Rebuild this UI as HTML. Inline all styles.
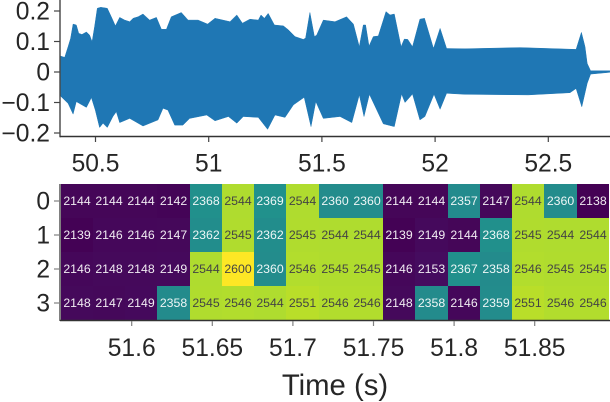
<!DOCTYPE html>
<html>
<head>
<meta charset="utf-8">
<style>
html,body{margin:0;padding:0;background:#fff;}
svg{display:block;}
text{font-family:"Liberation Sans",sans-serif;}
</style>
</head>
<body>
<svg id="chart" xmlns="http://www.w3.org/2000/svg" width="610" height="402" viewBox="0 0 610 402"></svg>
<script>
const upperTimes = [50.346,50.364,50.379,50.390,50.401,50.415,50.426,50.440,50.460,50.474,50.485,50.496,50.508,50.523,50.552,50.570,50.588,50.607,50.629,50.651,50.666,50.688,50.710,50.739,50.769,50.791,50.813,50.835,50.879,50.909,50.953,50.995,51.028,51.094,51.124,51.149,51.182,51.219,51.231,51.246,51.263,51.290,51.330,51.352,51.381,51.418,51.428,51.447,51.467,51.477,51.506,51.558,51.609,51.639,51.665,51.683,51.693,51.708,51.727,51.749,51.783,51.801,51.820,51.850,51.864,51.879,51.900,51.933,51.953,51.993,52.022,52.051,52.132,52.375,52.623,52.646,52.662,52.672,52.687,52.772];
const upperValues = [.052,.048,.083,.110,.157,.154,.127,.123,.131,.121,.099,.149,.209,.212,.209,.181,.151,.179,.170,.165,.176,.181,.190,.170,.179,.140,.140,.181,.195,.170,.170,.157,.176,.165,.187,.160,.173,.170,.187,.176,.192,.154,.151,.138,.116,.107,.111,.195,.116,.121,.170,.165,.181,.157,.083,.154,.154,.085,.116,.118,.198,.187,.190,.083,.108,.107,.083,.173,.176,.077,.143,.077,.076,.080,.074,.130,.083,.028,.004,.004];
const lowerTimes = [50.346,50.379,50.401,50.415,50.460,50.482,50.499,50.518,50.533,50.552,50.577,50.592,50.607,50.651,50.710,50.776,50.798,50.820,50.850,50.886,50.916,50.991,51.028,51.087,51.124,51.153,51.219,51.260,51.293,51.337,51.374,51.422,51.452,51.473,51.506,51.580,51.632,51.665,51.686,51.710,51.771,51.820,51.852,51.867,51.900,51.933,51.955,51.995,52.022,52.051,52.132,52.412,52.596,52.623,52.648,52.672,52.687,52.772];
const lowerValues = [-.079,-.103,-.138,-.097,-.116,-.084,-.125,-.182,-.168,-.182,-.146,-.130,-.166,-.152,-.177,-.157,-.119,-.125,-.174,-.174,-.152,-.141,-.160,-.146,-.168,-.146,-.149,-.188,-.141,-.149,-.108,-.083,-.179,-.097,-.152,-.146,-.166,-.075,-.146,-.073,-.170,-.179,-.072,-.100,-.072,-.157,-.146,-.073,-.122,-.070,-.073,-.075,-.068,-.054,-.114,-.037,-.007,-.001];
const waveYTicks = [0.2,0.1,0,-0.1,-0.2];
const waveYLabels = ["0.2","0.1","0","\u22120.1","\u22120.2"];
const waveXTicks = [50.5,51,51.5,52,52.5];
const waveXLabels = ["50.5","51","51.5","52","52.5"];
const columnTimes = [51.556,51.576,51.596,51.616,51.636,51.656,51.676,51.696,51.716,51.736,51.756,51.776,51.796,51.816,51.836,51.856,51.876];
const rowLabels = ["0","1","2","3"];
const row0 = [2144,2144,2144,2142,2368,2544,2369,2544,2360,2360,2144,2144,2357,2147,2544,2360,2138];
const row1 = [2139,2146,2146,2147,2362,2545,2362,2545,2544,2544,2139,2149,2144,2368,2545,2544,2544];
const row2 = [2146,2148,2148,2149,2544,2600,2360,2546,2545,2545,2146,2153,2367,2358,2546,2545,2545];
const row3 = [2148,2147,2149,2358,2545,2546,2544,2551,2546,2546,2148,2358,2146,2359,2551,2546,2546];
const heatXTicks = [51.6,51.65,51.7,51.75,51.8,51.85];
const heatXLabels = ["51.6","51.65","51.7","51.75","51.8","51.85"];
const xAxisTitle = "Time (s)";

const heatRows = [row0,row1,row2,row3];
const viridis = [[68,1,84],[72,36,117],[65,68,135],[53,95,141],[42,120,142],[33,145,140],[34,168,132],[68,191,112],[122,209,81],[189,223,38],[253,231,37]];
const NS = "http://www.w3.org/2000/svg";
const svg = document.getElementById("chart");

function make(tag, attrs, parent) {
  const node = document.createElementNS(NS, tag);
  for (const key in attrs) node.setAttribute(key, attrs[key]);
  (parent || svg).appendChild(node);
  return node;
}
function waveX(t) { return 95.5 + (t - 50.5) * 226.4; }
function waveY(v) { return 72 - v * 305; }
function heatX(t) { return 131.7 + (t - 51.6) * 1612; }
function heatY(i) { return 184 + i * 34; }
function colorFor(value) {
  const all = heatRows.flat();
  const lo = Math.min(...all), hi = Math.max(...all);
  const f = (value - lo) / (hi - lo) * 10;
  const i = Math.min(9, Math.floor(f));
  const k = f - i;
  const c = viridis[i].map((a, n) => Math.round(a + (viridis[i + 1][n] - a) * k));
  return "rgb(" + c.join(",") + ")";
}
function luminanceHigh(value) {
  const all = heatRows.flat();
  const lo = Math.min(...all), hi = Math.max(...all);
  return (value - lo) / (hi - lo) > 0.7;
}

// waveform envelope
const topPts = upperTimes.map((t, i) => waveX(t).toFixed(1) + "," + waveY(upperValues[i]).toFixed(1));
const botPts = lowerTimes.map((t, i) => waveX(t).toFixed(1) + "," + waveY(lowerValues[i]).toFixed(1)).reverse();
const wave = make("path", {d: "M" + topPts.concat(botPts).join("L") + "Z", fill: "#1f77b4", stroke: "#1f77b4", "stroke-width": "0.5"});



// waveform axes
const waveLeft = make("line", {x1: 60, x2: 60, y1: 0, y2: 137.2, stroke: "#444", "stroke-width": 1.4});


const waveBottom = make("line", {x1: 60, x2: 610, y1: 136.5, y2: 136.5, stroke: "#333", "stroke-width": 1.4});



waveYTicks.forEach((v, i) => {
  const y = waveY(v);
  const tick = make("line", {x1: 54, x2: 60, y1: y, y2: y, stroke: "#444", "stroke-width": 1.2});
  
  
  const label = make("text", {x: 50, y: y + 8.6, "text-anchor": "end", "font-size": 24.6, fill: "#262626"});
  label.textContent = waveYLabels[i];
  
  
});
waveXTicks.forEach((t, i) => {
  const x = waveX(t);
  const tick = make("line", {x1: x, x2: x, y1: 137, y2: 142, stroke: "#444", "stroke-width": 1.2});
  
  
  const label = make("text", {x: x, y: 171.5, "text-anchor": "middle", "font-size": 24.6, fill: "#262626"});
  label.textContent = waveXLabels[i];
  
  
});

// heatmap cells
heatRows.forEach((row, r) => {
  row.forEach((value, c) => {
    const x0 = Math.round(heatX(columnTimes[c]));
    const x1 = Math.round(heatX(columnTimes[c] + 0.02));
    const cell = make("rect", {x: x0, y: heatY(r), width: x1 - x0, height: 34, fill: colorFor(value), "shape-rendering": "crispEdges"});
    
    
    const text = make("text", {x: (x0 + x1) / 2, y: heatY(r) + 21.2, "text-anchor": "middle", "font-size": 12.3, fill: luminanceHigh(value) ? "#444" : "#fff", "fill-opacity": luminanceHigh(value) ? 1 : 0.92});
    text.textContent = value;
    
    
  });
});

// heatmap axes
const heatLeft = make("line", {x1: 60, x2: 60, y1: 184, y2: 321, stroke: "#808080", "stroke-width": 2});


const heatBottom = make("line", {x1: 60, x2: 610, y1: 320.5, y2: 320.5, stroke: "#333", "stroke-width": 1.4});



rowLabels.forEach((name, r) => {
  const y = heatY(r) + 17;
  const tick = make("line", {x1: 54, x2: 60, y1: y, y2: y, stroke: "#808080", "stroke-width": 1.2});
  
  
  const label = make("text", {x: 50, y: y + 8.6, "text-anchor": "end", "font-size": 24.6, fill: "#262626"});
  label.textContent = name;
  
  
});
heatXTicks.forEach((t, i) => {
  const x = heatX(t);
  const tick = make("line", {x1: x, x2: x, y1: 321, y2: 326, stroke: "#808080", "stroke-width": 1.2});
  
  
  const label = make("text", {x: x, y: 356, "text-anchor": "middle", "font-size": 24.6, fill: "#262626"});
  label.textContent = heatXLabels[i];
  
  
});

const title = make("text", {x: 335, y: 395, "text-anchor": "middle", "font-size": 29.3, fill: "#262626"});
title.textContent = xAxisTitle;


</script>
</body>
</html>
